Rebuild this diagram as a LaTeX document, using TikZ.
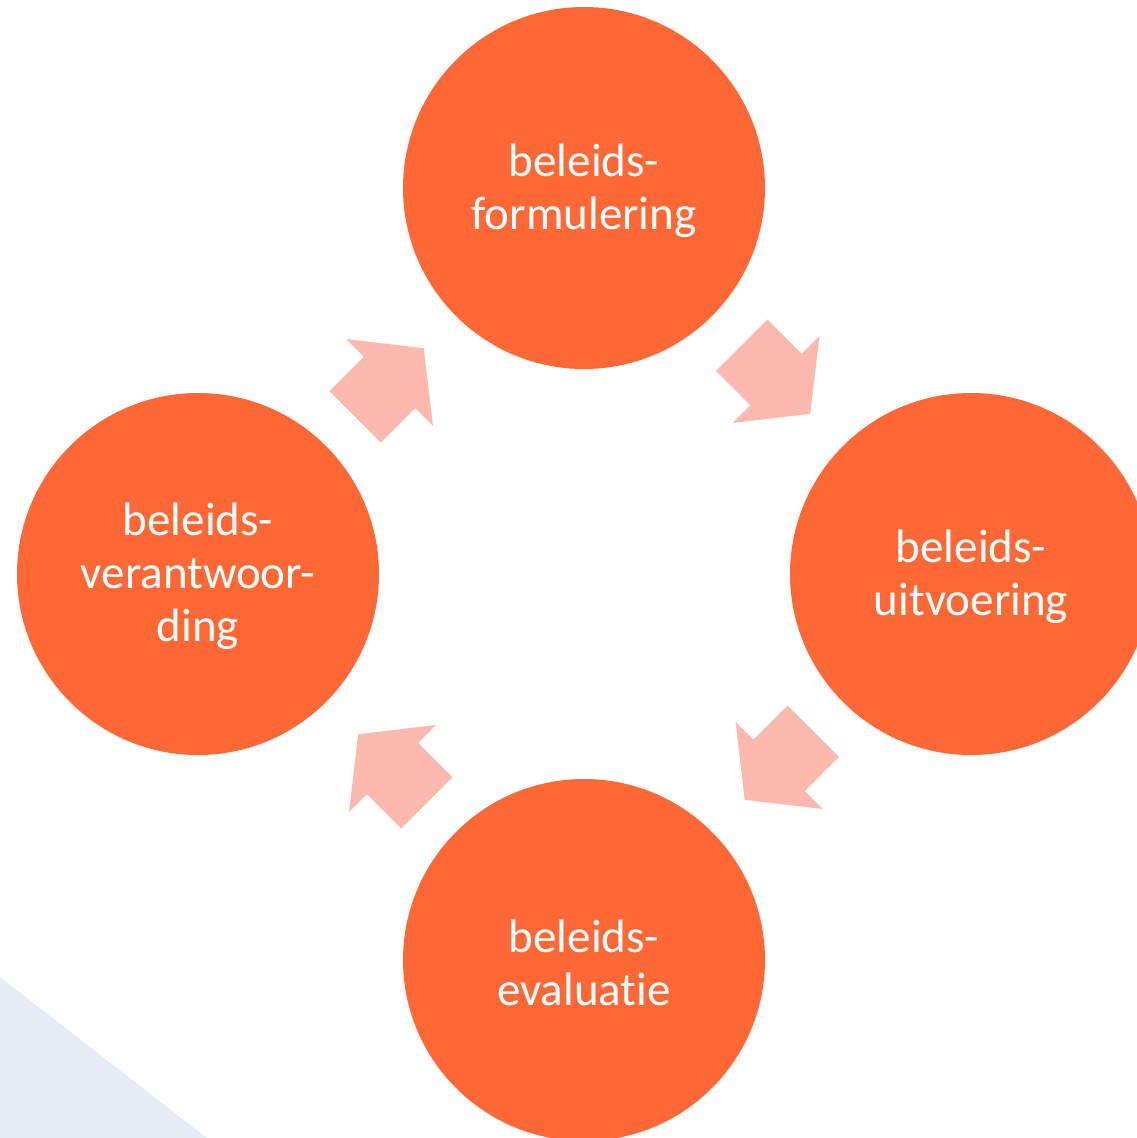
\documentclass[tikz,border=0pt]{standalone}
\usepackage{fontspec}
\setmainfont{Carlito}[Ligatures={NoCommon}]
\usetikzlibrary{calc}
\definecolor{circ}{RGB}{255,103,52}
\definecolor{arr}{RGB}{253,184,173}
\definecolor{tri}{RGB}{230,234,245}
\tikzset{
  x=0.75pt, y=-0.75pt,
  stage/.style={circle, fill=circ, minimum size=271.5pt, inner sep=0pt},
  stagetext/.style={text=white, align=center, inner sep=0pt,
    font=\fontsize{35.25pt}{39.75pt}\selectfont},
  blockarrow/.pic={
    \fill[arr] (-48.5,-36.4) -- (0,-36.4) -- (0,-61.5) -- (48.5,0) -- (0,61.5) -- (0,36.4) -- (-48.5,36.4) -- cycle;
  }
}
\begin{document}
\begin{tikzpicture}
\useasboundingbox (0,0) rectangle (1137,1138);
\clip (0,0) rectangle (1137,1138);
\fill[tri] (0,977) -- (207,1138) -- (0,1138) -- cycle;
\node[stage] (f) at (584,188) {};
\node[stage] (u) at (971,574) {};
\node[stage] (e) at (584,960) {};
\node[stage] (v) at (198,574) {};
\node[stagetext] (ft) at ($(f)+(0,2.5)$) {beleids-\\formulering};
\node[stagetext] (ut) at ($(u)+(0,2.5)$) {beleids-\\uitvoering};
\node[stagetext] (et) at ($(e)+(0,2.5)$) {beleids-\\evaluatie};
\node[stagetext] (vt) at ($(v)+(0,2.5)$) {beleids-\\verantwoor-\\ding};
\pic[rotate=-45] at ($(f)!0.5!(u)+(-1.5,-1.5)$) {blockarrow};
\pic[rotate=-135] at ($(u)!0.5!(e)+(1.5,-1.5)$) {blockarrow};
\pic[rotate=135] at ($(e)!0.5!(v)+(1.5,1.5)$) {blockarrow};
\pic[rotate=45] at ($(v)!0.5!(f)+(-1.5,1.5)$) {blockarrow};
\end{tikzpicture}
\end{document}
